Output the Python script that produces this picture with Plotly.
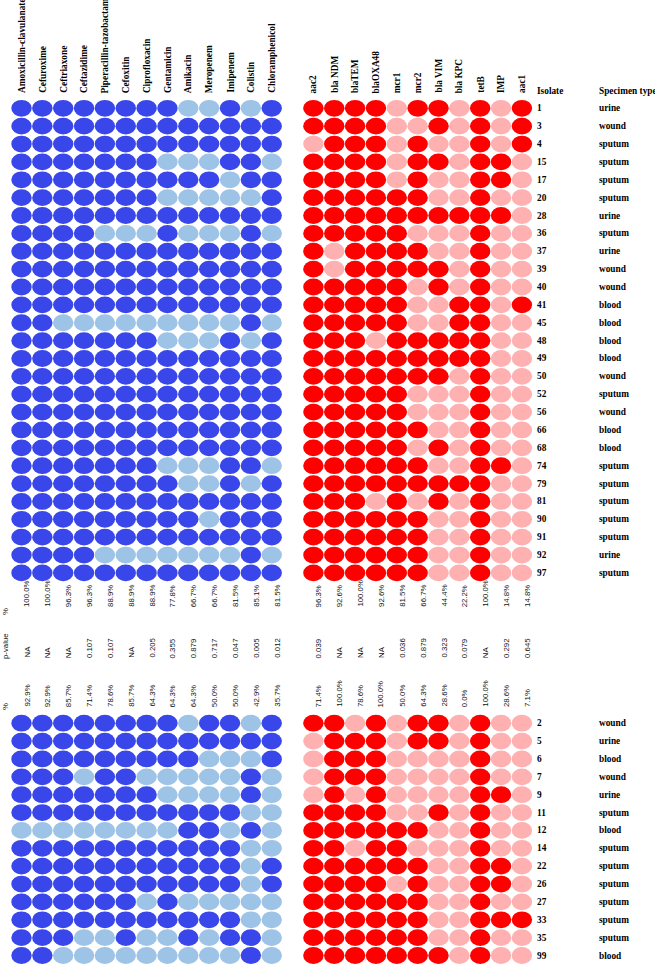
import plotly.graph_objects as go

# ---------------- data ----------------
antibiotics = ["Amoxicillin-clavulanate", "Cefuroxime", "Ceftriaxone", "Ceftazidime",
               "Piperacillin-tazobactam", "Cefoxitin", "Ciprofloxacin", "Gentamicin",
               "Amikacin", "Meropenem", "Imipenem", "Colistin", "Chloramphenicol"]
genes = ["aac2", "bla NDM", "blaTEM", "blaOXA48", "mcr1", "mcr2", "bla VIM",
         "bla KPC", "tetB", "IMP", "aac1"]

isolates_top = ["1", "3", "4", "15", "17", "20", "28", "36", "37", "39", "40", "41", "45",
                "48", "49", "50", "52", "56", "66", "68", "74", "79", "81", "90", "91", "92", "97"]
specimen_top = ["urine", "wound", "sputum", "sputum", "sputum", "sputum", "urine", "sputum",
                "urine", "wound", "wound", "blood", "blood", "blood", "blood", "wound",
                "sputum", "wound", "blood", "blood", "sputum", "sputum", "sputum", "sputum",
                "sputum", "urine", "sputum"]
isolates_bottom = ["2", "5", "6", "7", "9", "11", "12", "14", "22", "26", "27", "33", "35", "99"]
specimen_bottom = ["wound", "urine", "blood", "wound", "urine", "sputum", "blood", "sputum",
                   "sputum", "sputum", "sputum", "sputum", "sputum", "blood"]

# 1 = resistant (dark blue), 0 = susceptible (light blue)
ab_top = ["1111111100101", "1111111111111", "1111111111111", "1111111000110",
          "1111111111011", "1111111000001", "1111111111111", "1111000100010",
          "1111111111111", "1111111111111", "1111111111111", "1111111111111",
          "1100000000010", "1111111000101", "1111111111111", "1111111111111",
          "1111111111111", "1111111111111", "1111111111111", "1111111111111",
          "1111111000110", "1111111100101", "1111111111111", "1111111110111",
          "1111111111111", "1111000000010", "1111111111111"]
# 1 = gene present (red), 0 = absent (pink)
gene_top = ["11110110101", "11110010101", "01110100101", "11110110110", "11110100110",
            "11111100100", "11111111110", "11111000100", "10111100100", "10111110100",
            "11111010100", "11111001101", "11111001100", "11101111100", "11111111100",
            "11111110100", "11111000100", "11111000100", "11111100100", "11111010100",
            "11111100110", "11111111100", "11101010100", "11111100100", "11111100100",
            "11111100100", "11111100100"]
ab_bottom = ["1111111101101", "1111111111111", "1111111110001", "1110110000010",
             "1111111000010", "1111111111100", "0000000011010", "1111111111100",
             "1111111111101", "1111111111101", "1111110100000", "1111111111100",
             "1110010010110", "1100000000010"]
gene_bottom = ["11010110100", "01110110100", "01110000100", "01110000100", "01010000110",
               "11110010100", "11111100100", "11011000100", "11111100110", "11110100110",
               "11111100100", "11111100111", "11111100100", "11111110100"]

ab_pct_top = ["100.0%", "100.0%", "96.3%", "96.3%", "88.9%", "88.9%", "88.9%", "77.8%",
              "66.7%", "66.7%", "81.5%", "85.1%", "81.5%"]
ab_pvalue = ["NA", "NA", "NA", "0.107", "0.107", "NA", "0.205", "0.355", "0.879", "0.717",
             "0.047", "0.005", "0.012"]
ab_pct_bottom = ["92.9%", "92.9%", "85.7%", "71.4%", "78.6%", "85.7%", "64.3%", "64.3%",
                 "64.3%", "50.0%", "50.0%", "42.9%", "35.7%"]
gene_pct_top = ["96.3%", "92.6%", "100.0%", "92.6%", "81.5%", "66.7%", "44.4%", "22.2%",
                "100.0%", "14.8%", "14.8%"]
gene_pvalue = ["0.039", "NA", "NA", "NA", "0.036", "0.879", "0.323", "0.079", "NA",
               "0.292", "0.645"]
gene_pct_bottom = ["71.4%", "100.0%", "78.6%", "100.0%", "50.0%", "64.3%", "28.6%", "0.0%",
                   "100.0%", "28.6%", "7.1%"]

# ---------------- layout constants ----------------
W, H = 655, 965
COL_PX, ROW_PX = 20.85, 17.87
X1_PX, Y1_PX = 21.5, 108.3          # pixel centre of first column / first row
GENE_COL0 = len(antibiotics) + 2    # genes start after a one-column gap
BOTTOM_ROW0 = 35.41                 # row position of first isolate of lower block
ISO_X, SPEC_X = 25.63, 28.6
HALF_W, HALF_H = 0.49, 0.47

DARK_BLUE, LIGHT_BLUE = "#3946EA", "#9DC3E6"
RED, PINK = "#FF0000", "#FFB0B0"
SERIF = "Liberation Serif"
SANS = "Liberation Sans"
STAT_SIZE = 7.8

ab_cols = [i + 1 for i in range(len(antibiotics))]
gene_cols = [GENE_COL0 + i for i in range(len(genes))]
top_rows = [i + 1 for i in range(len(isolates_top))]
bottom_rows = [BOTTOM_ROW0 + i for i in range(len(isolates_bottom))]


def px_to_row(p):
    return 1 + (p - Y1_PX) / ROW_PX


shapes = []


def add_dots(rows, cols, matrix, on, off):
    for r, line in zip(rows, matrix):
        for c, v in zip(cols, line):
            shapes.append(dict(type="circle", xref="x", yref="y",
                               x0=c - HALF_W, x1=c + HALF_W, y0=r - HALF_H, y1=r + HALF_H,
                               fillcolor=on if v == "1" else off, line=dict(width=0),
                               layer="above"))


add_dots(top_rows, ab_cols, ab_top, DARK_BLUE, LIGHT_BLUE)
add_dots(top_rows, gene_cols, gene_top, RED, PINK)
add_dots(bottom_rows, ab_cols, ab_bottom, DARK_BLUE, LIGHT_BLUE)
add_dots(bottom_rows, gene_cols, gene_bottom, RED, PINK)

ann = []
hdr_y = px_to_row(95)
for c, name in zip(ab_cols + gene_cols, antibiotics + genes):
    ann.append(dict(x=c, y=hdr_y, text="<b>%s</b>" % name, textangle=-90,
                    xanchor="center", yanchor="bottom", showarrow=False,
                    font=dict(family=SERIF, size=9.3, color="black")))
ann.append(dict(x=ISO_X, y=px_to_row(90.5), text="<b>Isolate</b>", xanchor="left",
                yanchor="middle", showarrow=False, font=dict(family=SERIF, size=9.3, color="black")))
ann.append(dict(x=SPEC_X, y=px_to_row(90.5), text="<b>Specimen type</b>", xanchor="left",
                yanchor="middle", showarrow=False, font=dict(family=SERIF, size=9.3, color="black")))

for rows, isos, specs in [(top_rows, isolates_top, specimen_top),
                          (bottom_rows, isolates_bottom, specimen_bottom)]:
    for r, iso, sp in zip(rows, isos, specs):
        ann.append(dict(x=ISO_X, y=r, text="<b>%s</b>" % iso, xanchor="left", yanchor="middle",
                        showarrow=False, font=dict(family=SERIF, size=9.3, color="black")))
        ann.append(dict(x=SPEC_X, y=r, text="<b>%s</b>" % sp, xanchor="left", yanchor="middle",
                        showarrow=False, font=dict(family=SERIF, size=9.3, color="black")))

stat_rows = [(px_to_row(609), ab_pct_top, gene_pct_top),
             (px_to_row(660), ab_pvalue, gene_pvalue),
             (px_to_row(709), ab_pct_bottom, gene_pct_bottom)]
for yb, abv, gv in stat_rows:
    for c, t in zip(ab_cols + gene_cols, abv + gv):
        ann.append(dict(x=c, y=yb, text=t, textangle=-90, xanchor="center", yanchor="bottom",
                        xshift=5, showarrow=False,
                        font=dict(family=SANS, size=STAT_SIZE, color="#111")))

label_x = 1 + (5 - X1_PX) / COL_PX
ann.append(dict(x=label_x, y=px_to_row(612), text="%", textangle=-90, xanchor="center",
                yanchor="middle", showarrow=False, font=dict(family=SANS, size=STAT_SIZE, color="#111")))
ann.append(dict(x=label_x, y=px_to_row(661), text="p-value", textangle=-90, xanchor="center",
                yanchor="bottom", showarrow=False, font=dict(family=SANS, size=STAT_SIZE, color="#111")))
ann.append(dict(x=label_x, y=px_to_row(707), text="%", textangle=-90, xanchor="center",
                yanchor="middle", showarrow=False, font=dict(family=SANS, size=STAT_SIZE, color="#111")))

fig = go.Figure()
fig.add_trace(go.Scatter(x=[], y=[], mode="markers", showlegend=False))
fig.update_layout(
    width=W, height=H, margin=dict(l=0, r=0, t=0, b=0),
    paper_bgcolor="white", plot_bgcolor="white", showlegend=False,
    shapes=shapes, annotations=ann,
    xaxis=dict(range=[1 - X1_PX / COL_PX, 1 + (W - X1_PX) / COL_PX], visible=False,
               fixedrange=True),
    yaxis=dict(range=[1 + (H - Y1_PX) / ROW_PX, 1 - Y1_PX / ROW_PX], visible=False,
               fixedrange=True),
)
fig.write_html("out.html")
